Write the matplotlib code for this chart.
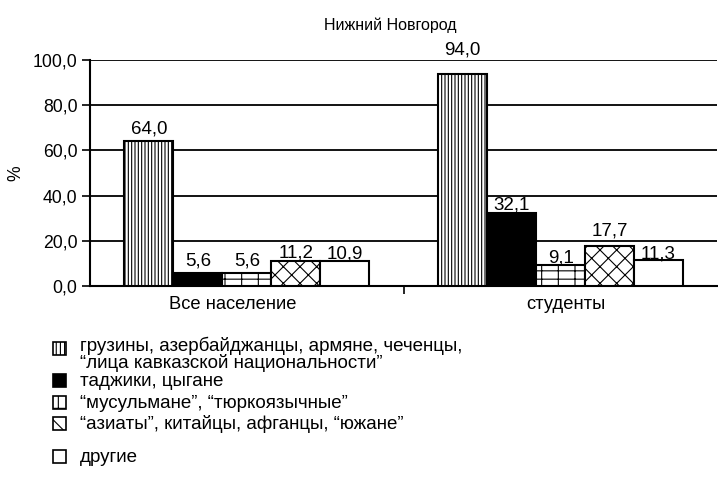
import matplotlib
matplotlib.use("Agg")
import matplotlib.pyplot as plt
import matplotlib.transforms as mtransforms
from matplotlib.patches import Rectangle
import numpy as np

plt.rcParams['font.family'] = ['Liberation Sans', 'DejaVu Sans']
plt.rcParams['hatch.linewidth'] = 0.8

title = "Нижний Новгород"
categories = ["Все население", "студенты"]
series_labels = [
    "грузины, азербайджанцы, армяне, чеченцы,\n\u201cлица кавказской национальности\u201d",
    "таджики, цыгане",
    "\u201cмусульмане\u201d, \u201cтюркоязычные\u201d",
    "\u201cазиаты\u201d, китайцы, афганцы, \u201cюжане\u201d",
    "другие",
]
values = [
    [64.0, 94.0],
    [5.6, 32.1],
    [5.6, 9.1],
    [11.2, 17.7],
    [10.9, 11.3],
]
yticks = [0, 20, 40, 60, 80, 100]
ytick_labels = ["0,0", "20,0", "40,0", "60,0", "80,0", "100,0"]

# vertical pixel offsets of the value labels above bar tops (layout only)
label_offsets = [
    [12, 24],
    [12, 8],
    [12, 7.5],
    [7.5, 14.5],
    [7.5, 6.5],
]

styles = [
    dict(facecolor="white", hatch="|||||"),
    dict(facecolor="black", hatch=None),
    dict(facecolor="white", hatch="-|-"),
    dict(facecolor="white", hatch="xx"),
    dict(facecolor="white", hatch=None),
]
legend_patch_hatch = ["||||", None, "-|", "x", None]

W, H = 718, 479
fig = plt.figure(figsize=(W / 100, H / 100), dpi=100)
ax = fig.add_axes([0.1253, 0.403, 0.874, 0.4717])

x = np.arange(len(categories))
width = 0.156
n = len(values)
for i, (vals, st) in enumerate(zip(values, styles)):
    pos = x + (i - (n - 1) / 2) * width
    ax.bar(pos, vals, width, edgecolor="black", linewidth=1.5, zorder=3, **st)
    for p, v, off in zip(pos, vals, label_offsets[i]):
        ax.annotate(f"{v:.1f}".replace(".", ","), (p, v), xytext=(0, off),
                    textcoords="offset pixels", ha="center", va="center",
                    fontsize=13.5, annotation_clip=False)

ax.set_xlim(-0.5, 1.5)
ax.set_ylim(0, 100)
ax.set_yticks(yticks)
ax.set_yticklabels(ytick_labels, fontsize=12.7)
ax.set_xticks(x)
ax.set_xticklabels(categories, fontsize=13.2)
ax.set_xticks([0.5], minor=True)
ax.tick_params(axis="x", which="major", length=0, pad=7)
ax.tick_params(axis="x", which="minor", length=6, width=1.2, direction="out")
ax.tick_params(axis="y", length=6, width=1.2, direction="out", pad=3)
for lbl, dx in zip(ax.get_xticklabels(), [-14, 5]):
    lbl.set_transform(lbl.get_transform() +
                      mtransforms.ScaledTranslation(dx / 100, 0, fig.dpi_scale_trans))
ax.yaxis.grid(True, color="black", linewidth=1.3, zorder=0)
ax.set_axisbelow(True)
for s in ["top", "right"]:
    ax.spines[s].set_visible(False)
ax.spines["left"].set_linewidth(1.5)
ax.spines["bottom"].set_linewidth(1.5)
ax.yaxis.set_label_coords(-0.104, 0.55)
ax.set_ylabel("%", fontsize=12.7)

fig.text(390 / W, 1 - 25 / H, title, ha="center", va="center", fontsize=11.5)

# manual legend (positions in pixels from top-left)
patch_y = [348, 380, 402, 423, 456]
text_y = [354, 381, 403, 424, 457]
patch_size = 13
for i, lab in enumerate(series_labels):
    fc = styles[i]["facecolor"]
    r = Rectangle(((59 - patch_size / 2) / W, 1 - (patch_y[i] + patch_size / 2) / H),
                  patch_size / W, patch_size / H, transform=fig.transFigure,
                  facecolor=fc, edgecolor="black", linewidth=1.2,
                  hatch=legend_patch_hatch[i])
    fig.add_artist(r)
    fig.text(80 / W, 1 - text_y[i] / H, lab, ha="left", va="center",
             fontsize=13.5, linespacing=0.95)

fig.savefig("out.png", dpi=100)
